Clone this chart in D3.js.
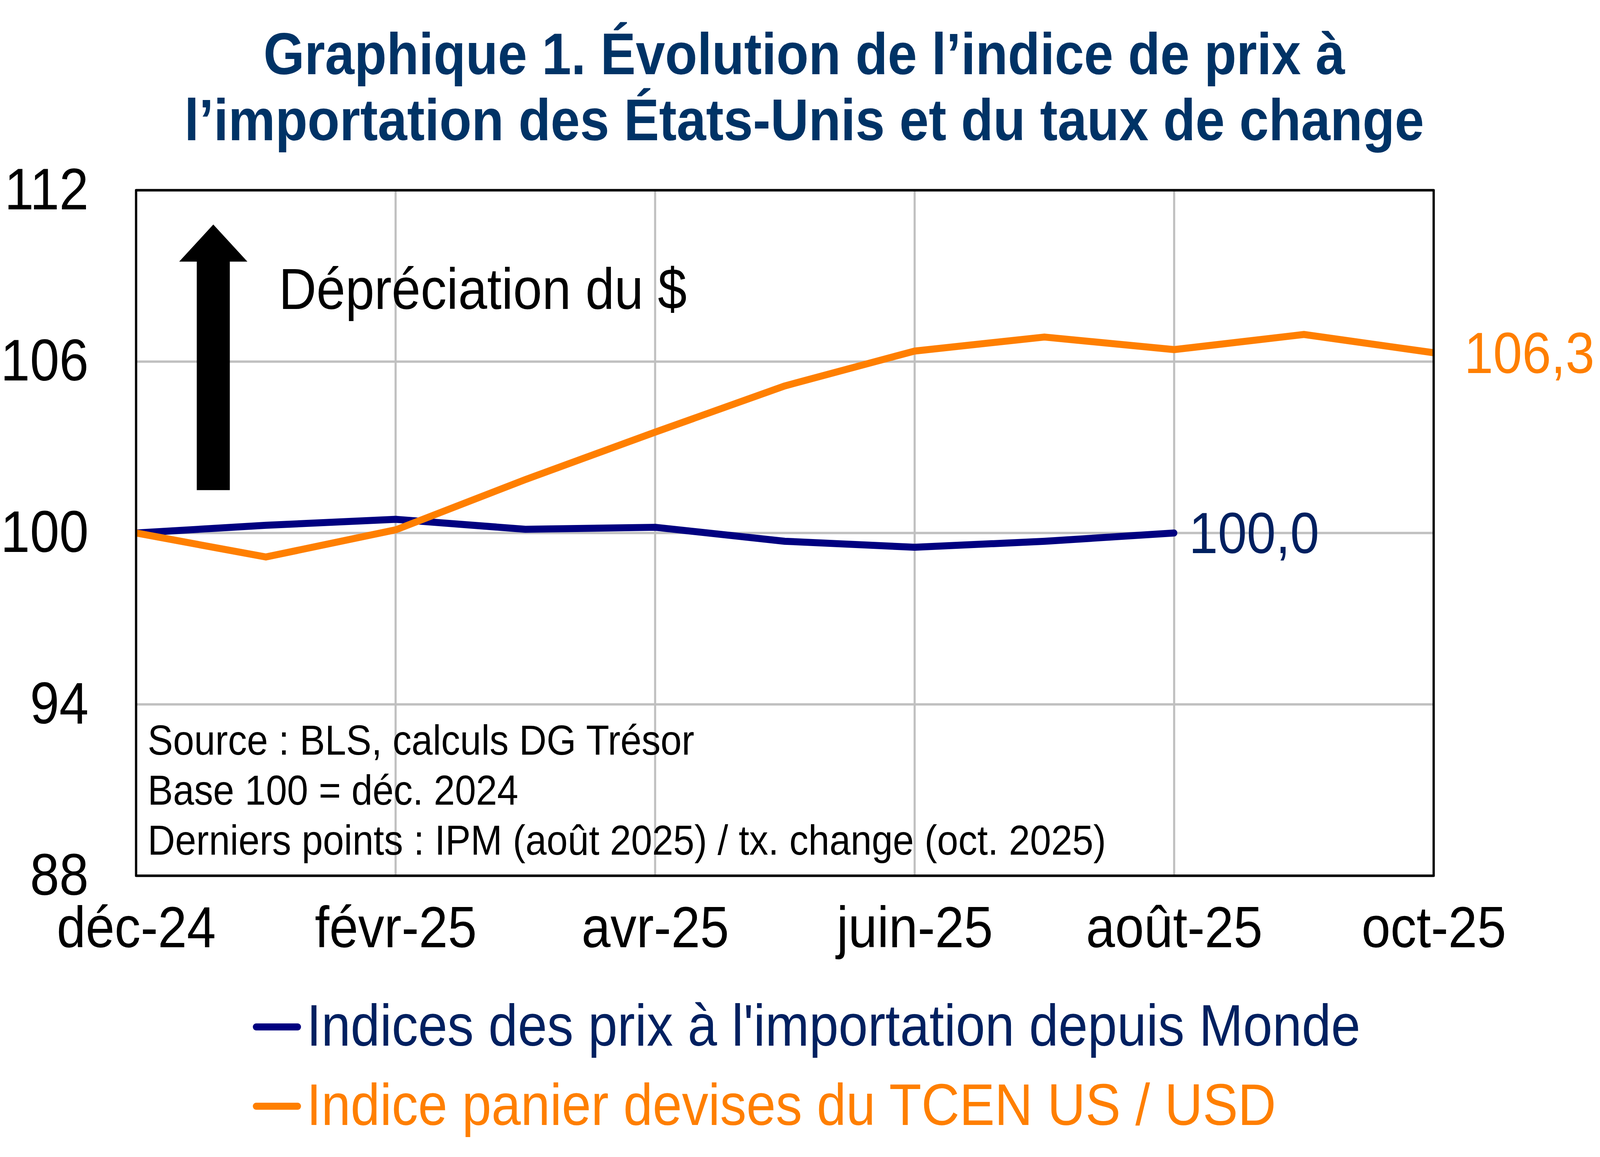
<!DOCTYPE html>
<html lang="fr">
<head>
<meta charset="utf-8">
<script src="https://cdn.jsdelivr.net/npm/d3@7"></script>
<style>
  html, body { margin: 0; padding: 0; background: #fff; overflow: hidden; }
  svg { display: block; width: 100vw; height: 100vh; font-family: "Liberation Sans", Arial, sans-serif; }
</style>
</head>
<body>
<svg id="chart"></svg>
<script>
const width = 4550;
const height = 2962;

// months of the x axis
const months = ["déc-24", "janv-25", "févr-25", "mars-25", "avr-25", "mai-25",
                "juin-25", "juil-25", "août-25", "sept-25", "oct-25"];
// labelled months (one every two)
const tickMonths = ["déc-24", "févr-25", "avr-25", "juin-25", "août-25", "oct-25"];
const yTicks = [88, 94, 100, 106, 112];

// Indices des prix à l'importation depuis Monde (until août 2025)
const ipm = [100.0, 100.27, 100.48, 100.13, 100.2, 99.71, 99.5, 99.71, 100.0];
// Indice panier devises du TCEN US / USD (until oct 2025)
const tcen = [100.0, 99.16, 100.11, 101.87, 103.53, 105.15, 106.37, 106.86, 106.42, 106.95, 106.31];

const titleLines = ["Graphique 1. Évolution de l’indice de prix à",
                    "l’importation des États-Unis et du taux de change"];
const notes = ["Source : BLS, calculs DG Trésor",
               "Base 100 = déc. 2024",
               "Derniers points : IPM (août 2025) / tx. change (oct. 2025)"];
const legendNames = ["Indices des prix à l'importation depuis Monde",
                     "Indice panier devises du TCEN US / USD"];

const blue = "#000080";
const blueText = "#002060";
const orange = "#ff7f00";
const titleColor = "#003366";

const plot = {left: 387, right: 4077, top: 487, bottom: 2242};

// the window can be narrower than 4550, so the 4550x2962 drawing is fitted to it
const svg = d3.select("#chart")
    .attr("viewBox", [0, 0, width, height])
    .attr("preserveAspectRatio", "none");

const x = d3.scalePoint()
    .domain(months)
    .range([plot.left, plot.right]);

const y = d3.scaleLinear()
    .domain([88, 112])
    .range([plot.bottom, plot.top]);

// Title
svg.append("g").selectAll("text")
    .data(titleLines)
    .enter().append("text")
    .attr("x", 2287)
    .attr("y", (d, i) => 190 + i * 169)
    .attr("text-anchor", "middle")
    .attr("font-size", 150)
    .attr("font-weight", "bold")
    .attr("fill", titleColor)
    .text(d => d);

// Grid
svg.append("g")
    .selectAll("line")
    .data(yTicks.slice(1, -1))
    .enter().append("line")
    .attr("x1", plot.left).attr("x2", plot.right)
    .attr("y1", d => y(d)).attr("y2", d => y(d))
    .attr("stroke", "#c0c0c0")
    .attr("stroke-width", 6);

svg.append("g")
    .selectAll("line")
    .data(tickMonths.slice(1, -1))
    .enter().append("line")
    .attr("x1", d => x(d)).attr("x2", d => x(d))
    .attr("y1", plot.top).attr("y2", plot.bottom)
    .attr("stroke", "#c0c0c0")
    .attr("stroke-width", 6);

// Notes inside the plot
svg.append("g").selectAll("text")
    .data(notes)
    .enter().append("text")
    .attr("x", 420)
    .attr("y", (d, i) => 1932 + i * 128)
    .attr("font-size", 108)
    .attr("fill", "#000")
    .text(d => d);

// Arrow "Dépréciation du $"
const ax = x(months[0]) + 0.595 * x.step();
const tipY = y(110.8);
const headY = y(109.5);
const tailY = y(101.5);
svg.append("path")
    .attr("d", `M${ax},${tipY} L${ax + 97},${headY} L${ax + 47},${headY} L${ax + 47},${tailY}
                L${ax - 47},${tailY} L${ax - 47},${headY} L${ax - 97},${headY} Z`)
    .attr("fill", "#000");

svg.append("text")
    .attr("x", 793)
    .attr("y", 791)
    .attr("font-size", 148)
    .attr("fill", "#000")
    .text("Dépréciation du $");

// Lines
svg.append("clipPath").attr("id", "plotClip")
    .append("rect")
    .attr("x", plot.left).attr("y", plot.top)
    .attr("width", plot.right - plot.left)
    .attr("height", plot.bottom - plot.top);

const line = d3.line()
    .x((d, i) => x(months[i]))
    .y(d => y(d));

const lines = svg.append("g").attr("clip-path", "url(#plotClip)");

lines.append("path")
    .datum(ipm)
    .attr("d", line)
    .attr("fill", "none")
    .attr("stroke", blue)
    .attr("stroke-width", 18)
    .attr("stroke-linejoin", "round")
    .attr("stroke-linecap", "round");

lines.append("path")
    .datum(tcen)
    .attr("d", line)
    .attr("fill", "none")
    .attr("stroke", orange)
    .attr("stroke-width", 18)
    .attr("stroke-linejoin", "round")
    .attr("stroke-linecap", "round");

// Plot border
svg.append("rect")
    .attr("x", plot.left).attr("y", plot.top)
    .attr("width", plot.right - plot.left)
    .attr("height", plot.bottom - plot.top)
    .attr("fill", "none")
    .attr("stroke", "#000")
    .attr("stroke-width", 6.5)
    .attr("stroke-linejoin", "round");

// Last point labels
svg.append("text")
    .attr("x", x(months[ipm.length - 1]) + 42)
    .attr("y", y(ipm[ipm.length - 1]))
    .attr("dy", "0.35em")
    .attr("font-size", 148)
    .attr("fill", blueText)
    .text(ipm[ipm.length - 1].toFixed(1).replace(".", ","));

svg.append("text")
    .attr("x", x(months[tcen.length - 1]) + 87)
    .attr("y", y(tcen[tcen.length - 1]))
    .attr("dy", "0.35em")
    .attr("font-size", 148)
    .attr("fill", orange)
    .text(tcen[tcen.length - 1].toFixed(1).replace(".", ","));

// Axes
const yAxis = svg.append("g")
    .attr("transform", `translate(${plot.left},0)`)
    .call(d3.axisLeft(y).tickValues(yTicks).tickSize(0).tickPadding(135));
yAxis.select(".domain").remove();
yAxis.selectAll("text")
    .attr("font-size", 150)
    .attr("font-family", "Liberation Sans, Arial, sans-serif")
    .attr("fill", "#000");

const xAxis = svg.append("g")
    .attr("transform", `translate(0,${plot.bottom})`)
    .call(d3.axisBottom(x).tickValues(tickMonths).tickSize(0).tickPadding(78));
xAxis.select(".domain").remove();
xAxis.selectAll("text")
    .attr("font-size", 148)
    .attr("font-family", "Liberation Sans, Arial, sans-serif")
    .attr("fill", "#000");

// Legend
const legend = svg.append("g").selectAll("g")
    .data(legendNames)
    .enter().append("g")
    .attr("transform", (d, i) => `translate(0,${2629 + i * 203})`);

legend.append("line")
    .attr("x1", 728).attr("x2", 847)
    .attr("y1", 0).attr("y2", 0)
    .attr("stroke", (d, i) => i === 0 ? blue : orange)
    .attr("stroke-width", 18)
    .attr("stroke-linecap", "round");

legend.append("text")
    .attr("x", 872)
    .attr("y", 48)
    .attr("font-size", 150)
    .attr("fill", (d, i) => i === 0 ? blueText : orange)
    .text(d => d);
</script>
</body>
</html>
